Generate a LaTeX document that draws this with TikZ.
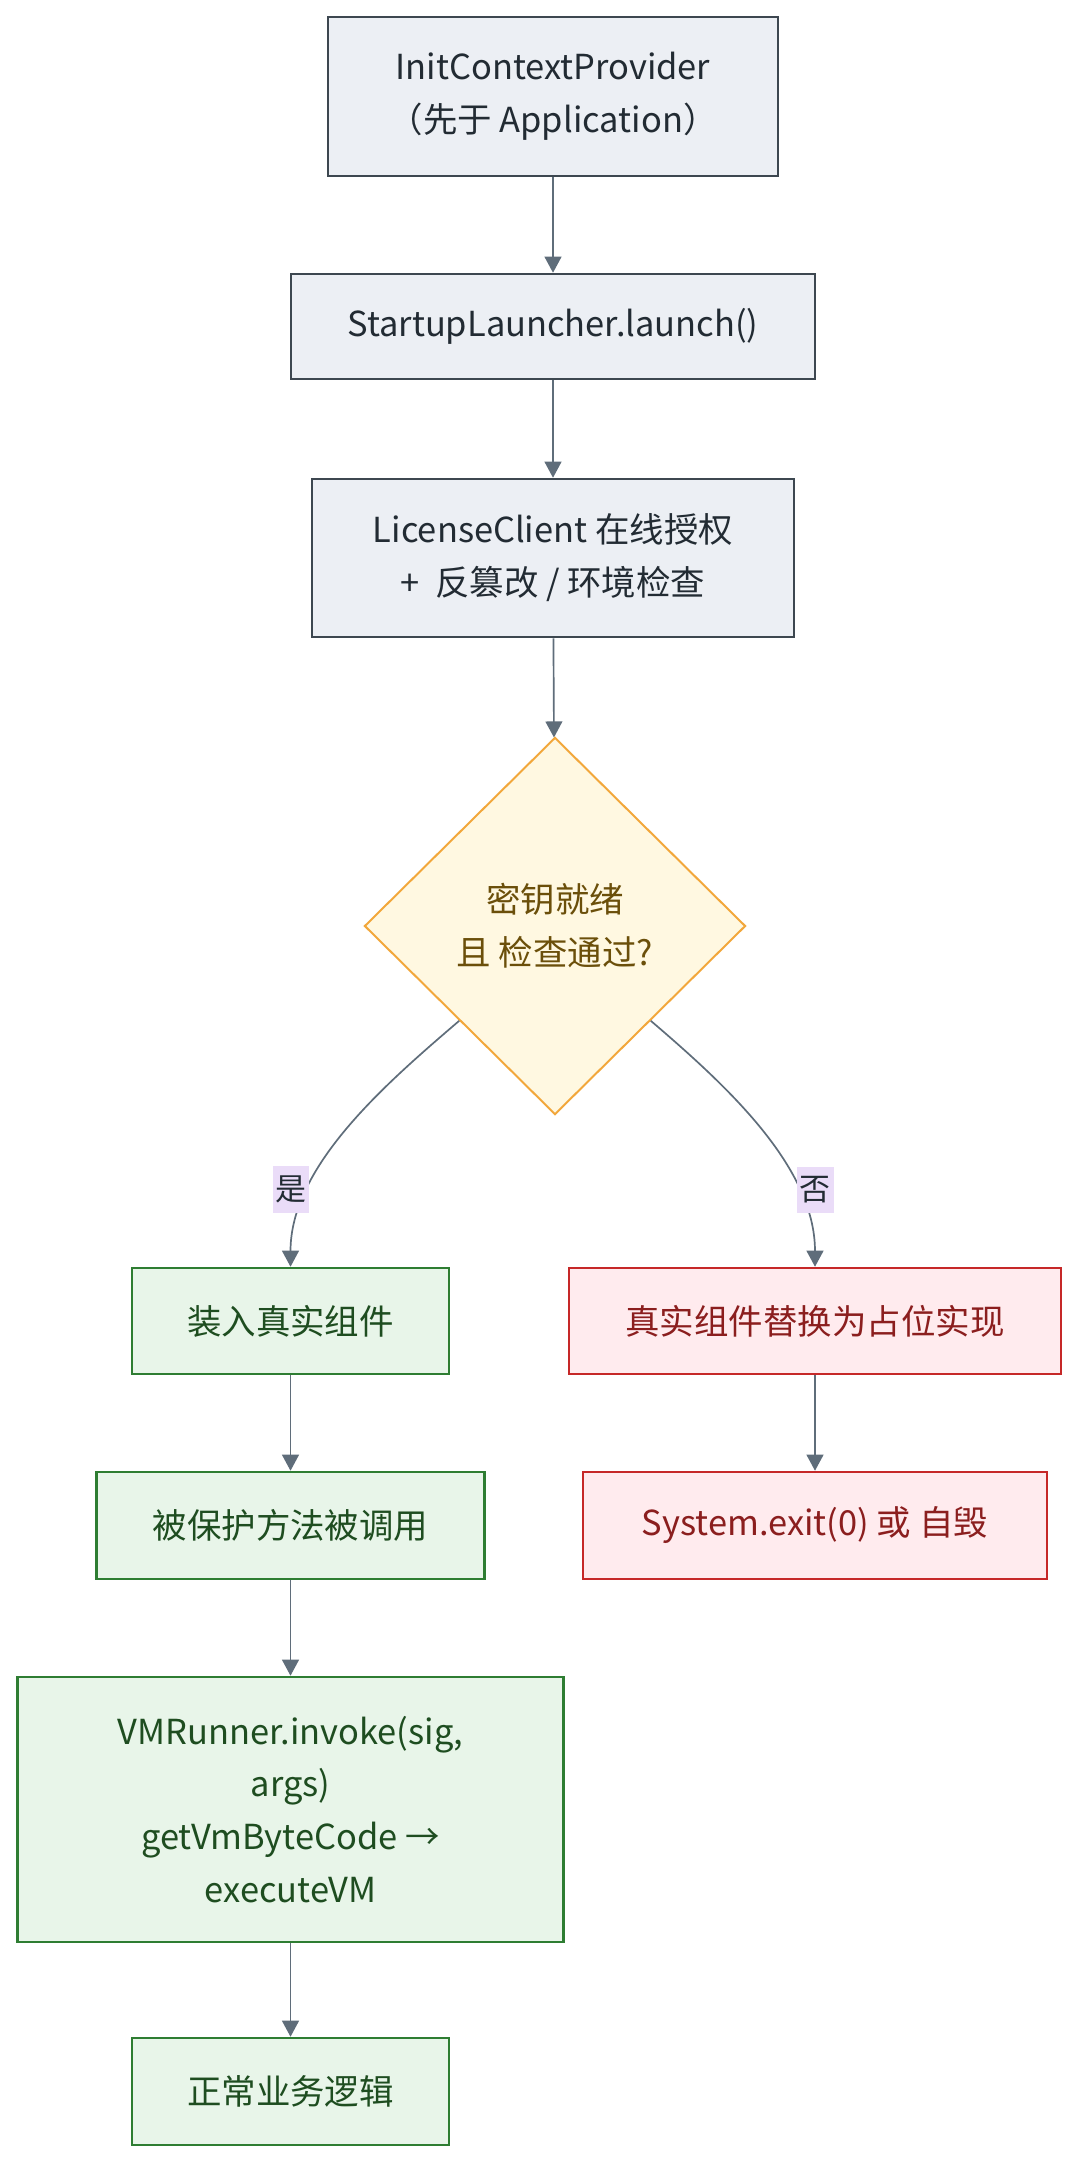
\documentclass[tikz,border=0pt]{standalone}
\usepackage{fontspec}
\setmainfont{Noto Sans CJK SC}
\usetikzlibrary{shapes.geometric,arrows.meta}

\definecolor{boxfill}{HTML}{ECEFF4}
\definecolor{boxline}{HTML}{3D4750}
\definecolor{inkdark}{HTML}{222B33}
\definecolor{flowline}{HTML}{5F6D7A}
\definecolor{decfill}{HTML}{FFF8E1}
\definecolor{decline}{HTML}{F2A73B}
\definecolor{dectext}{HTML}{6B4F0A}
\definecolor{okfill}{HTML}{E8F5E9}
\definecolor{okline}{HTML}{2E7D32}
\definecolor{oktext}{HTML}{1E4D20}
\definecolor{badfill}{HTML}{FFEBEE}
\definecolor{badline}{HTML}{C62828}
\definecolor{badtext}{HTML}{8B1E1E}
\definecolor{tagfill}{HTML}{EADCF8}

\begin{document}
\begin{tikzpicture}[x=0.025cm, y=-0.025cm,
    every node/.style={font=\fontsize{24.5}{37.6}\selectfont, align=center},
    plain/.style={draw=boxline, fill=boxfill, line width=1.8pt, text=inkdark, rectangle, inner sep=0pt},
    good/.style={draw=okline, fill=okfill, line width=1.8pt, text=oktext, rectangle, inner sep=0pt},
    bad/.style={draw=badline, fill=badfill, line width=1.8pt, text=badtext, rectangle, inner sep=0pt},
    check/.style={diamond, draw=decline, fill=decfill, line width=1.4pt, text=dectext, inner sep=0pt},
    flow/.style={draw=flowline, line width=1.2pt, -{Triangle[length=0.4cm, width=0.42cm]}},
    tag/.style={fill=tagfill, text=inkdark, inner xsep=2pt, inner ysep=7pt, font=\fontsize{22}{26}\selectfont}]
    \fill[white] (0,0) rectangle (1080,2164);
    \useasboundingbox (0,0) rectangle (1080,2164);

    % Startup chain
    \node[plain, minimum width=11.25cm, minimum height=3.975cm] (init) at (553,96.5) {InitContextProvider\\（先于 Application）};
    \node[plain, minimum width=13.1cm, minimum height=2.625cm] (launch) at (553,326.5) {StartupLauncher.launch()};
    \node[plain, minimum width=12.05cm, minimum height=3.95cm] (license) at (553,558) {LicenseClient 在线授权\\+ \ 反篡改 / 环境检查};
    \node[check, minimum width=9.525cm, minimum height=9.425cm] (ready) at (555,926) {密钥就绪\\且 检查通过?};

    % Branches
    \node[good, minimum width=7.925cm, minimum height=2.65cm] (real) at (290.5,1321) {装入真实组件};
    \node[bad, minimum width=12.3cm, minimum height=2.65cm] (stub) at (815,1321) {真实组件替换为占位实现};
    \node[good, minimum width=9.7cm, minimum height=2.675cm] (called) at (290.5,1525.5) {被保护方法被调用};
    \node[bad, minimum width=11.6cm, minimum height=2.675cm] (quit) at (815,1525.5) {System.exit(0) 或 自毁};
    \node[good, minimum width=13.65cm, minimum height=6.625cm] (vmrun) at (290.5,1809.5) {VMRunner.invoke(sig,\\args)\\getVmByteCode →\\executeVM};
    \node[good, minimum width=7.925cm, minimum height=2.675cm] (biz) at (290.5,2091.5) {正常业务逻辑};

    % Relationships
    \draw[flow] (init) -- (launch);
    \draw[flow] (launch) -- (license);
    \draw[flow] (license) -- (ready);
    \draw[flow] (ready.south west) .. controls +(-76,65) and +(0,-100) .. (real.north) node[tag, pos=0.73, xshift=-0.44cm] {是};
    \draw[flow] (ready.south east) .. controls +(76,65) and +(0,-100) .. (stub.north) node[tag, pos=0.73, xshift=0.44cm] {否};
    \draw[flow] (real) -- (called);
    \draw[flow] (called) -- (vmrun);
    \draw[flow] (vmrun) -- (biz);
    \draw[flow] (stub) -- (quit);
\end{tikzpicture}
\end{document}
